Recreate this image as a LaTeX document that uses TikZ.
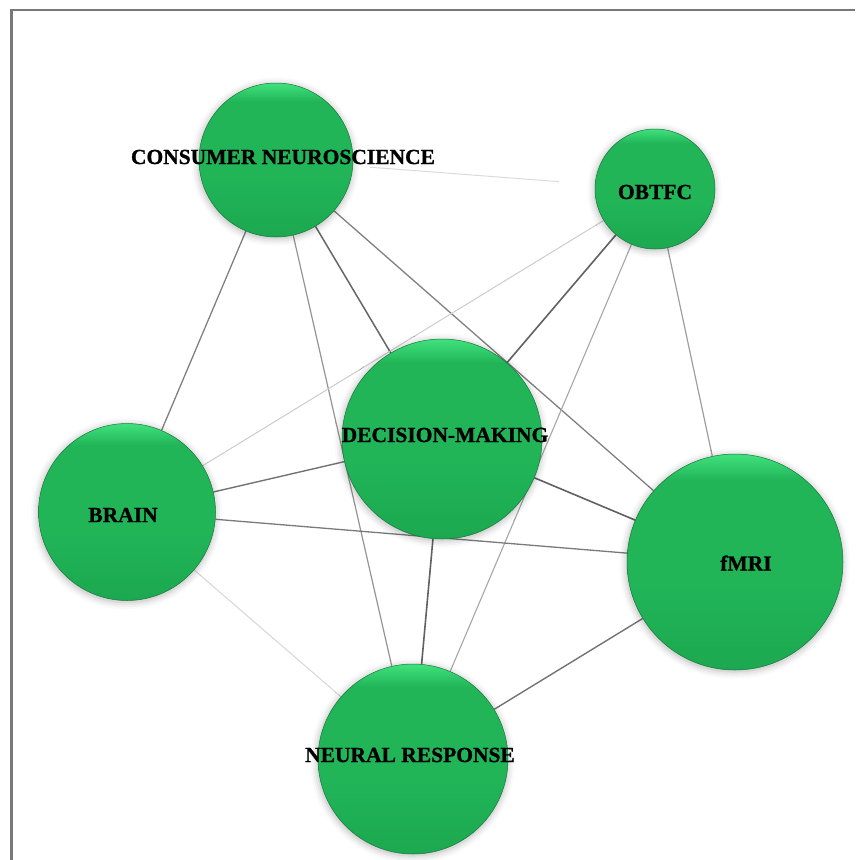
\documentclass[tikz,border=0pt]{standalone}
\usepackage{fontspec}
\setmainfont{Liberation Serif}[BoldFeatures={FakeBold=1}]
\usetikzlibrary{shadows.blur,backgrounds}

\definecolor{ballDark}{RGB}{28,168,80}
\definecolor{ballBody}{RGB}{33,181,88}
\definecolor{ballTop}{RGB}{62,222,122}
\definecolor{ballEdge}{RGB}{22,120,60}
\definecolor{frameGray}{RGB}{120,120,120}

% vertical shading: path bbox maps to 25bp (bottom) .. 75bp (top)
\pgfdeclareverticalshading{nodeball}{100bp}{%
  color(0bp)=(ballDark); color(25bp)=(ballDark); color(45bp)=(ballBody);
  color(69bp)=(ballBody); color(74.5bp)=(ballTop); color(100bp)=(ballTop)}

\tikzset{
  ball/.style={circle, inner sep=0pt, minimum size=#1, shading=nodeball,
    draw=ballEdge, line width=0.5pt,
    blur shadow={shadow xshift=-0.5pt, shadow yshift=-1.5pt,
      shadow blur radius=7pt, shadow blur extra rounding=3pt,
      shadow opacity=30}},
  term/.style={font=\bfseries\fontsize{21.5}{22}\selectfont, text=black,
    inner sep=0pt},
  link/.style={line width=#1},
}

\begin{document}
\begin{tikzpicture}[x=1pt,y=-1pt]
\useasboundingbox (0,0) rectangle (855,860);

% frame
\draw[frameGray, line width=2.2pt] (855,10) -- (11.5,10) -- (11.5,860);

% terms
\node[ball=154pt] (cn)  at (276,160) {};
\node[ball=120pt] (ob)  at (655,189) {};
\node[ball=200pt] (dm)  at (442,439) {};
\node[ball=177pt] (br)  at (127,512) {};
\node[ball=216pt] (fm)  at (735,562) {};
\node[ball=190pt] (nr)  at (413,759) {};

\node[term] (cnl) at (283,157) {CONSUMER NEUROSCIENCE};
\node[term] (obl) at (655,192) {OBTFC};
\node[term] (dml) at (445,435) {DECISION-MAKING};
\node[term] (brl) at (123,515) {BRAIN};
\node[term] (fml) at (746,563) {fMRI};
\node[term] (nrl) at (410,755) {NEURAL RESPONSE};

% co-occurrence links
\begin{scope}[on background layer]
\draw[link=1pt,   black!14, shorten <=17pt, shorten >=36pt] (cn) -- (ob);
\draw[link=1.3pt, black!50] (cn) -- (br);
\draw[link=1.5pt, black!60] (cn) -- (dm);
\draw[link=1.2pt, black!42] (cn) -- (nr);
\draw[link=1.3pt, black!50] (cn) -- (fm);
\draw[link=1pt,   black!20] (ob) -- (br);
\draw[link=1.6pt, black!62] (ob) -- (dm);
\draw[link=1.1pt, black!35] (ob) -- (nr);
\draw[link=1.2pt, black!38] (ob) -- (fm);
\draw[link=1.4pt, black!55] (dm) -- (br);
\draw[link=1.6pt, black!62] (dm) -- (fm);
\draw[link=1.6pt, black!62] (dm) -- (nr);
\draw[link=1.3pt, black!52] (br) -- (fm);
\draw[link=1pt,   black!16] (br) -- (nr);
\draw[link=1.4pt, black!55] (fm) -- (nr);
\end{scope}
\end{tikzpicture}
\end{document}
